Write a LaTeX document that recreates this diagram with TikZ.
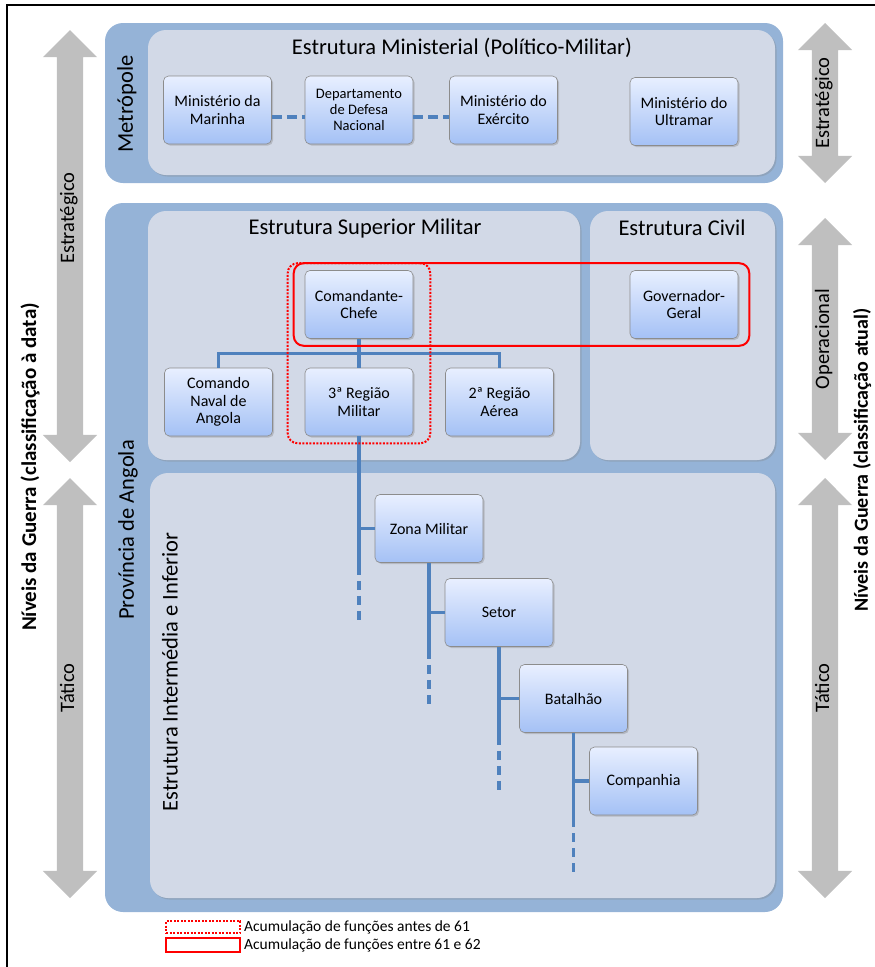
\documentclass[tikz,border=0pt]{standalone}
\usepackage{fontspec}
\setmainfont{Carlito}
\usepackage{tikz}
\usetikzlibrary{shapes.arrows,positioning,fit,calc,shadows}
\definecolor{PanelBlue}{RGB}{149,179,215}
\definecolor{PanelGray}{RGB}{210,217,231}
\definecolor{ArrowGray}{RGB}{191,191,191}
\definecolor{LinkBlue}{RGB}{79,129,189}
\definecolor{BoxTop}{RGB}{232,239,255}
\definecolor{BoxBot}{RGB}{164,193,245}

\begin{document}
\begin{tikzpicture}[x=1pt,y=-1pt,
  outer/.style={fill=PanelBlue,rounded corners=18pt,inner sep=0pt},
  inner/.style={fill=PanelGray,rounded corners=18pt,inner sep=0pt,
                drop shadow={shadow xshift=1.5pt,shadow yshift=-1.5pt,opacity=0.3}},
  unit/.style={draw=black!45,line width=0.6pt,top color=BoxTop,bottom color=BoxBot,
               rounded corners=5pt,minimum width=108pt,minimum height=68pt,
               align=center,font=\fontsize{16}{17.5}\selectfont,inner sep=2pt,
               drop shadow={shadow xshift=1.5pt,shadow yshift=-1.5pt,opacity=0.35}},
  ttl/.style={font=\fontsize{22.5}{26}\selectfont},
  lvl/.style={double arrow,fill=ArrowGray,rotate=90,inner xsep=0pt,inner ysep=5pt,
              double arrow head extend=14pt,double arrow head indent=0pt,
              text height=12pt,text depth=4pt,font=\fontsize{20.5}{22}\selectfont},
  niv/.style={rotate=90,font=\fontsize{21}{24}\selectfont\bfseries},
  link/.style={draw=LinkBlue,line width=3.5pt},
  linkdash/.style={draw=LinkBlue,line width=3.5pt,dash pattern=on 9pt off 6pt},
  acc/.style={draw=red,line width=2pt,rounded corners=10pt,inner ysep=7pt},
]
\useasboundingbox (0,0) rectangle (875,967);
\draw[line width=2pt] (7,967) -- (7,5) -- (875,5);

% panels
\node[outer,minimum width=678pt,minimum height=160pt] (metro) at (444,103) {};
\node[inner,minimum width=627pt,minimum height=145pt] (ministerial) at (461.5,102.5) {};
\node[outer,minimum width=678pt,minimum height=709pt] (angola) at (444,557.5) {};
\node[inner,minimum width=432pt,minimum height=249pt] (superior) at (364,335.5) {};
\node[inner,minimum width=185pt,minimum height=249pt] (civil) at (682.5,335.5) {};
\node[inner,minimum width=625pt,minimum height=425pt] (inferior) at (462.5,685.5) {};

\node[ttl] (tmin) at (462,48) {Estrutura Ministerial (Político-Militar)};
\node[ttl] (tsup) at (365,228) {Estrutura Superior Militar};
\node[ttl] (tciv) at (682,228) {Estrutura Civil};
\node[ttl,rotate=90] (tmet) at (127,104) {Metrópole};
\node[ttl,rotate=90] (tang) at (128,530) {Província de Angola};
\node[ttl,rotate=90] (tinf) at (170,672) {Estrutura Intermédia e Inferior};

% levels
\node[lvl,minimum height=432pt] (lestr) at (70,246) {\hspace*{56pt}Estratégico};
\node[lvl,minimum height=420pt] (ltat) at (70,688) {Tático};
\node[lvl,minimum height=160pt] (restr) at (825,103) {Estratégico};
\node[lvl,minimum height=242pt] (rop) at (825,339) {Operacional};
\node[lvl,minimum height=420pt] (rtat) at (825,688) {Tático};
\node[niv] (lniv) at (30,467) {Níveis da Guerra (classificação à data)};
\node[niv,font=\fontsize{20}{24}\selectfont\bfseries] (rniv) at (862,460) {Níveis da Guerra (classificação atual)};

% metropole
\node[unit] (mm) at (217.5,110) {Ministério da\\Marinha};
\node[unit,font=\fontsize{14.5}{16}\selectfont] (ddn) at (359,110) {Departamento\\de Defesa\\Nacional};
\node[unit] (me) at (503.5,110) {Ministério do\\Exército};
\node[unit] (mu) at (684,111.5) {Ministério do\\Ultramar};
\draw[link,dash pattern=on 10pt off 5pt] ([yshift=-7pt]mm.east) -- ([yshift=-7pt]ddn.west);
\draw[link,dash pattern=on 10pt off 5pt] ([yshift=-7pt]ddn.east) -- ([yshift=-7pt]me.west);

% angola
\node[unit] (cc) at (359,304.5) {Comandante-\\Chefe};
\node[unit] (gg) at (684,304.5) {Governador-\\Geral};
\node[unit] (cna) at (218.5,402) {Comando\\Naval de\\Angola};
\node[unit] (rm3) at (359,402) {3ª Região\\Militar};
\node[unit] (rea) at (499.5,402) {2ª Região\\Aérea};
\node[unit] (zm) at (429,528.5) {Zona Militar};
\node[unit] (st) at (499,612.5) {Setor};
\node[unit] (bt) at (573.5,698.5) {Batalhão};
\node[unit] (cp) at (643.5,781) {Companhia};

\draw[link] (cc) -- (rm3);
\draw[link] (cna.north) |- ($(cc.south)!0.5!(rm3.north)$) -| (rea.north);
\foreach \a/\b in {rm3/zm,zm/st,st/bt,bt/cp}{
  \draw[link] (\a.south) -- ([yshift=-12pt]\a.south |- \b.south);
  \draw[link] (\a.south |- \b.west) -- (\b.west);
  \draw[linkdash] ([yshift=-18pt]\a.south |- \b.south) -- ([yshift=-60pt]\a.south |- \b.south);
}

% accumulation of functions
\node[acc,dash pattern=on 2pt off 1.5pt,fit=(cc)(rm3),inner xsep=17pt] (accdot) {};
\node[acc,fit=(cc)(gg),inner xsep=11pt] (accsol) {};

% legend
\node[draw=red,line width=2pt,dash pattern=on 2pt off 1.5pt,minimum width=74pt,minimum height=12pt,inner sep=0pt] (legdot) at (203,927) {};
\node[draw=red,line width=2pt,minimum width=74pt,minimum height=14pt,inner sep=0pt] (legsol) at (203,945) {};
\node[right=3pt of legdot,inner sep=0pt,font=\fontsize{15.5}{17}\selectfont] (tdot) {Acumulação de funções antes de 61};
\node[right=3pt of legsol,inner sep=0pt,font=\fontsize{15.5}{17}\selectfont] (tsol) {Acumulação de funções entre 61 e 62};
\end{tikzpicture}
\end{document}
